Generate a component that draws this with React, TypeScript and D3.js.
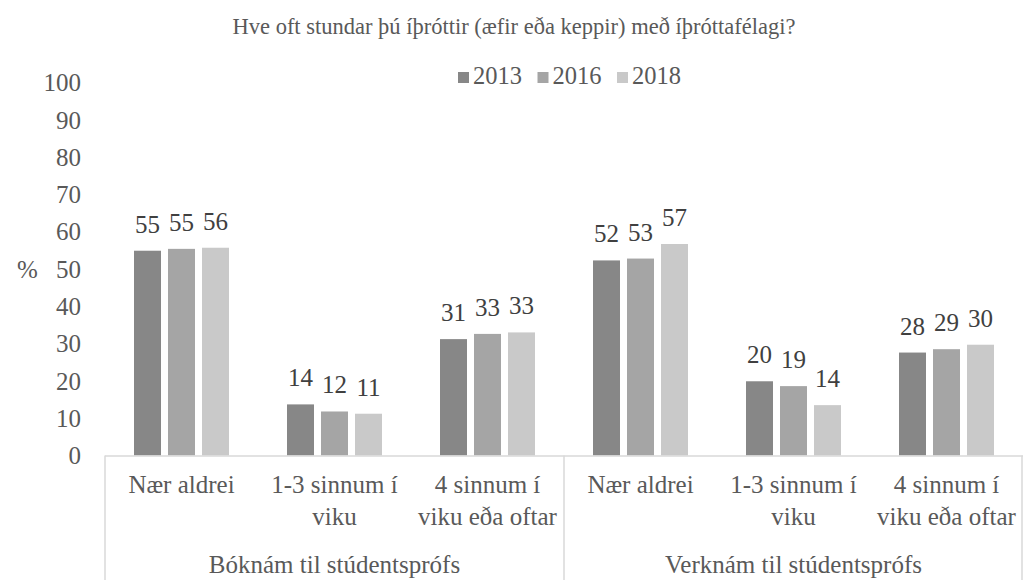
import React, { useEffect, useRef } from 'react';
import * as d3 from 'd3';

const title = 'Hve oft stundar þú íþróttir (æfir eða keppir) með íþróttafélagi?';
const groups = ['Bóknám til stúdentsprófs', 'Verknám til stúdentsprófs'];
const categoryLines = [['Nær aldrei'], ['1-3 sinnum í', 'viku'], ['4 sinnum í', 'viku eða oftar']];
const years = ['2013', '2016', '2018'];
const colors = ['#878787', '#a5a5a5', '#c9c9c9'];
const values2013 = [54.9, 13.7, 31.2, 52.3, 19.9, 27.6];
const values2016 = [55.4, 11.8, 32.6, 52.8, 18.6, 28.5];
const values2018 = [55.7, 11.2, 33.0, 56.7, 13.5, 29.7];
const yTicks = [0, 10, 20, 30, 40, 50, 60, 70, 80, 90, 100];

const FONT = "'Liberation Serif'";

const App: React.FC = () => {
  const svgRef = useRef<SVGSVGElement>(null);

  useEffect(() => {
    if (!svgRef.current) return;
    const svg = d3.select(svgRef.current);
    svg.selectAll('*').remove();

    const width = 1023;
    const height = 580;
    const left = 105;
    const right = 1023;
    const base = 455.5;
    const top = 82.5;

    const series = [values2013, values2016, values2018];
    const slots = groups.flatMap((g, gi) => categoryLines.map((_, ci) => `${gi}-${ci}`));

    const x0 = d3.scaleBand<string>().domain(slots).range([left, right]).paddingInner(0).paddingOuter(0);
    const x1 = d3.scaleBand<string>()
      .domain(years)
      .range([0, x0.bandwidth()])
      .paddingInner(0.206)
      .paddingOuter(0.853);
    const y = d3.scaleLinear().domain([0, 100]).range([base, top]);

    svg.append('rect').attr('width', width).attr('height', height).attr('fill', '#ffffff');

    const addText = (sel: d3.Selection<any, any, any, any>, size: number, color: string) =>
      sel.append('text').attr('font-family', FONT).attr('font-size', size).attr('fill', color);

    // title
    addText(svg, 22.5, '#595959')
      .attr('x', 514)
      .attr('y', 34)
      .attr('text-anchor', 'middle')
      .text(title);

    // legend
    const legend = d3.scalePoint<string>().domain(years).range([458, 617]);
    years.forEach((yr, i) => {
      const lx = legend(yr) ?? 0;
      svg.append('rect')
        .attr('x', lx)
        .attr('y', 72)
        .attr('width', 11)
        .attr('height', 11)
        .attr('fill', colors[i]);
      addText(svg, 24.5, '#595959')
        .attr('x', lx + 15)
        .attr('y', 84)
        .text(yr);
    });

    // y axis labels
    yTicks.forEach(d => {
      addText(svg, 25, '#595959')
        .attr('x', 81)
        .attr('y', y(d))
        .attr('dy', '0.35em')
        .attr('text-anchor', 'end')
        .text(d);
    });

    addText(svg, 25, '#595959')
      .attr('x', 17)
      .attr('y', y(50))
      .attr('dy', '0.35em')
      .text('%');

    // bars
    slots.forEach((slot, si) => {
      years.forEach((yr, k) => {
        const v = series[k][si];
        const bx = (x0(slot) ?? 0) + (x1(yr) ?? 0);
        svg.append('rect')
          .attr('x', bx)
          .attr('y', y(v))
          .attr('width', x1.bandwidth())
          .attr('height', base - y(v))
          .attr('fill', colors[k]);
        addText(svg, 25, '#404040')
          .attr('x', bx + x1.bandwidth() / 2)
          .attr('y', y(v) - 18)
          .attr('text-anchor', 'middle')
          .text(Math.round(v));
      });
    });

    // category axis
    const axis = svg.append('g').attr('stroke', '#d9d9d9').attr('stroke-width', 1.5);
    axis.append('line').attr('x1', left).attr('x2', right).attr('y1', base + 0.5).attr('y2', base + 0.5);
    const seps = [left, left + x0.step() * 3, right - 1];
    seps.forEach(sx => {
      axis.append('line').attr('x1', sx).attr('x2', sx).attr('y1', base).attr('y2', height);
    });

    slots.forEach((slot, si) => {
      const lines = categoryLines[si % 3];
      const cx = (x0(slot) ?? 0) + x0.bandwidth() / 2;
      const t = addText(svg, 25, '#595959').attr('text-anchor', 'middle');
      lines.forEach((ln, li) => {
        t.append('tspan').attr('x', cx).attr('y', 493 + li * 32).text(ln);
      });
    });

    groups.forEach((g, gi) => {
      const cx = left + x0.step() * 3 * gi + (x0.step() * 3) / 2;
      addText(svg, 25, '#595959')
        .attr('x', cx)
        .attr('y', 573)
        .attr('text-anchor', 'middle')
        .text(g);
    });
  }, []);

  return (
    <svg
      ref={svgRef}
      width={1023}
      height={580}
      viewBox="0 0 1023 580"
      style={{ position: 'absolute', left: 0, top: 0 }}
    />
  );
};

export default App;
